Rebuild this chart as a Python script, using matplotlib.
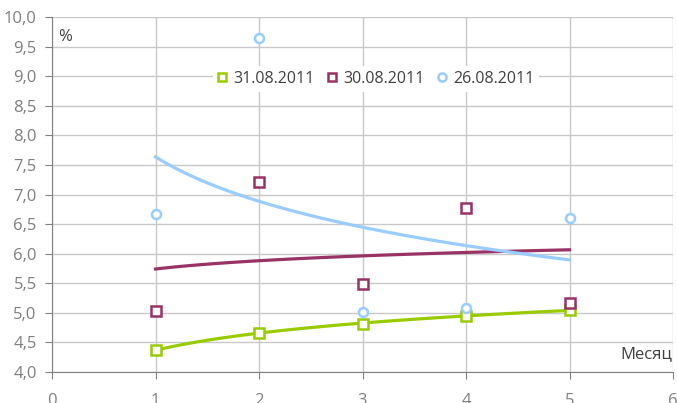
import numpy as np
import matplotlib.pyplot as plt

plt.rcParams['font.family'] = ['Open Sans', 'DejaVu Sans']

# months and values (%)
months = [1, 2, 3, 4, 5]
s_3108 = [4.37, 4.66, 4.81, 4.95, 5.05]
s_3008 = [5.03, 7.21, 5.49, 6.77, 5.17]
s_2608 = [6.67, 9.64, 5.01, 5.08, 6.60]

labels = ['31.08.2011', '30.08.2011', '26.08.2011']
colors = ['#99cc00', '#993366', '#99ccff']
markers = ['s', 's', 'o']

fig = plt.figure(figsize=(6.77, 4.03), dpi=100)
ax = fig.add_axes([52/677, 31/403, 621/677, 355/403])

x = np.array(months, dtype=float)
xs = np.linspace(1, 5, 100)
for vals, lab, c, m in zip([s_3108, s_3008, s_2608], labels, colors, markers):
    y = np.array(vals)
    # logarithmic trend line (as in Excel)
    k, b = np.polyfit(np.log(x), y, 1)
    ax.plot(xs, k*np.log(xs) + b, color=c, lw=2.3, zorder=3)
    ax.plot(x, y, ls='none', marker=m, ms=6.5, mfc='white', mec=c, mew=1.8,
            label=lab, zorder=4)

ax.set_xlim(0, 6)
ax.set_ylim(4, 10)
ax.set_xticks(range(0, 7))
yt = np.arange(4, 10.01, 0.5)
ax.set_yticks(yt)
ax.set_yticklabels([f'{v:.1f}'.replace('.', ',') for v in yt])
ax.grid(True, color='#c8c8c8', lw=1)
ax.set_axisbelow(True)
for s in ['top', 'right']:
    ax.spines[s].set_visible(False)
ax.spines['left'].set_color('#808080')
ax.spines['bottom'].set_color('#808080')
ax.tick_params(colors='#808080', labelsize=12, length=5, labelcolor='#7f7f7f')
ax.tick_params(axis='x', pad=10)
ax.tick_params(axis='y', pad=6)

ax.text(0.06, 9.66, '%', fontsize=12, color='#404040', va='center')
ax.text(5.99, 4.3, 'Месяц', fontsize=12, color='#404040', ha='right', va='center')

leg = ax.legend(loc='center', bbox_to_anchor=(376/677, (403-79)/403),
                bbox_transform=fig.transFigure, ncol=3, frameon=True,
                fontsize=11.5, handlelength=0.6, handletextpad=0.4,
                columnspacing=0.8, borderpad=0.3, markerscale=0.9)
leg.get_frame().set_facecolor('white')
leg.get_frame().set_edgecolor('none')
leg.get_frame().set_alpha(1)
for t in leg.get_texts():
    t.set_color('#404040')

fig.savefig('out.png', dpi=100)
